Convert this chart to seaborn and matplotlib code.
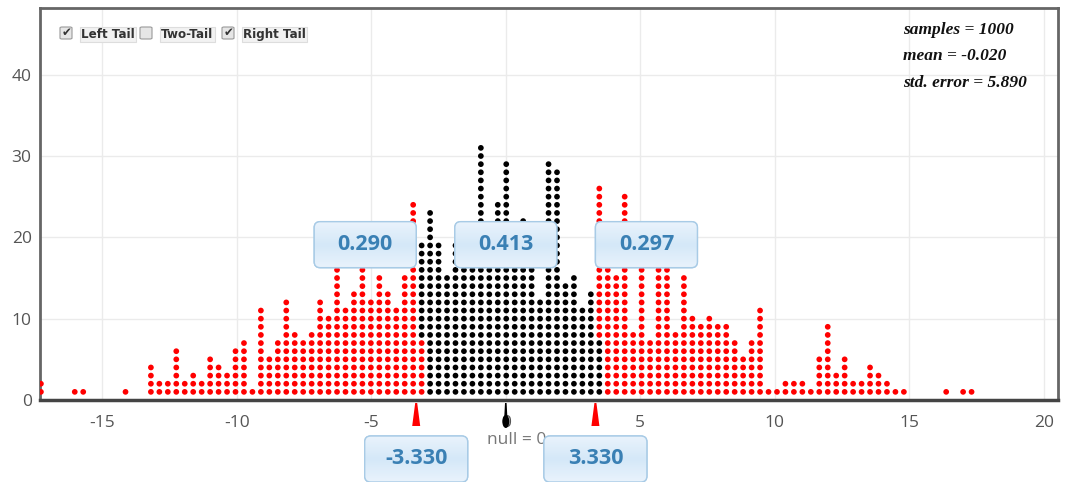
import matplotlib
matplotlib.use("Agg")
import matplotlib.pyplot as plt
from matplotlib.patches import FancyBboxPatch, Polygon, Ellipse, Rectangle
import numpy as np
import pandas as pd
import seaborn as sns

# Randomization dot plot: one dot per sample, stacked per column
BIN_START = -17.276
BIN_STEP = 0.3144
COUNTS = [
    2, 0, 0, 0, 1, 1, 0, 0, 0, 0,
    1, 0, 0, 4, 2, 2, 6, 2, 3, 2,
    5, 4, 3, 6, 7, 1, 11, 5, 7, 12,
    8, 7, 8, 12, 10, 19, 11, 13, 18, 12,
    15, 13, 11, 15, 24, 19, 23, 19, 15, 19,
    17, 18, 31, 19, 24, 29, 18, 22, 18, 12,
    29, 28, 14, 15, 11, 13, 26, 18, 15, 25,
    8, 20, 7, 18, 18, 8, 15, 10, 9, 10,
    9, 9, 7, 5, 7, 11, 1, 1, 2, 2,
    2, 1, 5, 9, 3, 5, 2, 2, 4, 3,
    2, 1, 1, 0, 0, 0, 0, 1, 0, 1,
    1,
]
# columns at the cutoffs hold both kinds: bottom dots take the other colour
MIXED_BOTTOM = {45: 7, 66: 7}

CUTOFF = 3.33
NULL_VALUE = 0
TAIL_LABELS = ["0.290", "0.413", "0.297"]
CUTOFF_LABELS = ["-3.330", "3.330"]
STATS = ["samples = 1000", "mean = -0.020", "std. error = 5.890"]
OPTIONS = [("Left Tail", True), ("Two-Tail", False), ("Right Tail", True)]

W, H = 1070, 482
RED = "#ff0000"
TEXT_BLUE = "#3a80b4"

sns.set_theme(style="white")
plt.rcParams["font.family"] = ["Open Sans", "DejaVu Sans"]
plt.rcParams["axes.unicode_minus"] = False

rows = []
for k, n in enumerate(COUNTS):
    x = BIN_START + k * BIN_STEP
    in_tail = abs(x) >= CUTOFF
    flip = MIXED_BOTTOM.get(k, 0)
    for j in range(1, n + 1):
        rows.append((x, j, in_tail if j > flip else not in_tail))
dots = pd.DataFrame(rows, columns=["x", "count", "tail"])

fig = plt.figure(figsize=(W / 100, H / 100), dpi=100)
ax = fig.add_axes([40 / W, 82 / H, 1018 / W, 392 / H])

sns.scatterplot(
    data=dots, x="x", y="count", hue="tail",
    palette={True: RED, False: "#000000"},
    s=17, linewidth=0, legend=False, ax=ax, zorder=3,
)

ax.set_xlim(-17.31, 20.52)
ax.set_ylim(0, 48.2)
ax.set_xticks(range(-15, 21, 5))
ax.set_yticks(range(0, 41, 10))
ax.set_xlabel("")
ax.set_ylabel("")
ax.grid(True, color="#ebebeb", linewidth=1)
ax.set_axisbelow(True)
ax.tick_params(axis="both", length=0, labelsize=12.5, labelcolor="#555555")
ax.tick_params(axis="x", pad=11)
ax.tick_params(axis="y", pad=6)
for side in ["left", "right", "top"]:
    ax.spines[side].set_color("#666666")
    ax.spines[side].set_linewidth(2)
ax.spines["bottom"].set_color("#444444")
ax.spines["bottom"].set_linewidth(2.5)

# px -> data conversion for decorations
ux = (20.52 + 17.31) / 1018
uy = 48.2 / 392


def value_box(cx, cy, text, w=102, h=46):
    bw, bh = w * ux, h * uy
    x0, y0 = cx - bw / 2, cy - bh / 2
    box = FancyBboxPatch(
        (x0, y0), bw, bh,
        boxstyle="round,pad=0,rounding_size=%f" % (6 * ux),
        mutation_aspect=uy / ux,
        fc="#ddedf9", ec="#a8cbe6", lw=1, clip_on=False, zorder=6,
    )
    ax.add_patch(box)
    grad = np.linspace(0, 1, 64).reshape(-1, 1)
    grad = np.where(grad < 0.5, grad * 2, 2 - grad * 2)
    im = ax.imshow(
        grad, extent=[x0, x0 + bw, y0, y0 + bh], origin="upper",
        cmap=matplotlib.colors.LinearSegmentedColormap.from_list(
            "b", ["#e9f3fc", "#d5e8f8"]),
        aspect="auto", zorder=6.5, interpolation="bilinear",
    )
    im.set_clip_path(box)
    im.set_clip_box(fig.bbox)
    edge = FancyBboxPatch(
        (x0, y0), bw, bh,
        boxstyle="round,pad=0,rounding_size=%f" % (6 * ux),
        mutation_aspect=uy / ux,
        fc="none", ec="#a8cbe6", lw=1, clip_on=False, zorder=6.8,
    )
    ax.add_patch(edge)
    ax.text(cx, cy, text, ha="center", va="center", color=TEXT_BLUE,
            fontsize=15.5, fontweight="bold", zorder=7, clip_on=False)


box_y = 19.1
box_w = 102 * ux
value_box(-CUTOFF - box_w / 2, box_y, TAIL_LABELS[0])
value_box(NULL_VALUE, box_y, TAIL_LABELS[1])
value_box(CUTOFF + box_w / 2, box_y, TAIL_LABELS[2])

# cutoff markers and labels below the axis
for c, lab in zip([-CUTOFF, CUTOFF], CUTOFF_LABELS):
    tri = Polygon(
        [(c - 4 * ux, -26 * uy), (c + 4 * ux, -26 * uy),
         (c + 1 * ux, -3 * uy), (c - 1 * ux, -3 * uy)],
        closed=True, fc=RED, ec="none", clip_on=False, zorder=5,
    )
    ax.add_patch(tri)
    value_box(c, -59 * uy, lab, w=103)

# null marker
pin = Polygon(
    [(NULL_VALUE - 1.5 * ux, -16 * uy), (NULL_VALUE + 1.5 * ux, -16 * uy),
     (NULL_VALUE + 0.8 * ux, -3 * uy), (NULL_VALUE - 0.8 * ux, -3 * uy)],
    closed=True, fc="black", ec="none", clip_on=False, zorder=5,
)
ax.add_patch(pin)
ax.add_patch(Ellipse((NULL_VALUE, -21.5 * uy), 7 * ux, 13 * uy,
                     fc="black", ec="none", clip_on=False, zorder=5))
ax.annotate("null = 0", xy=(NULL_VALUE, 0), xytext=(8, -29),
            textcoords="offset points", ha="center", va="center",
            fontsize=12.5, color="#777777", annotation_clip=False, zorder=4)

# summary statistics
for i, line in enumerate(STATS):
    fig.text(903 / W, 1 - (34 + 26.5 * i) / H, line, ha="left", va="baseline",
             family="Liberation Serif", style="italic", fontweight="bold",
             fontsize=12.5, color="#111111")

# tail option checkboxes
cb_x = [60, 140, 222]
for (label, checked), x in zip(OPTIONS, cb_x):
    cb = FancyBboxPatch(
        (x / W, 1 - 39 / H), 12 / W, 12 / H,
        boxstyle="round,pad=0,rounding_size=0.002",
        transform=fig.transFigure, fc="#e6e6e6", ec="#9a9a9a", lw=0.8,
    )
    fig.add_artist(cb)
    if checked:
        fig.text((x + 6.5) / W, 1 - 32.5 / H, "\u2714", ha="center", va="center",
                 family="DejaVu Sans", fontsize=8.5, color="#333333")
    fig.text((x + 21) / W, 1 - 34.5 / H, label, ha="left", va="center",
             family="DejaVu Sans", fontweight="bold", fontsize=8.6,
             color="#333333",
             bbox=dict(boxstyle="square,pad=0.12", fc="#f2f2f2", ec="#dddddd", lw=0.8))

fig.savefig("out.png", dpi=100)
